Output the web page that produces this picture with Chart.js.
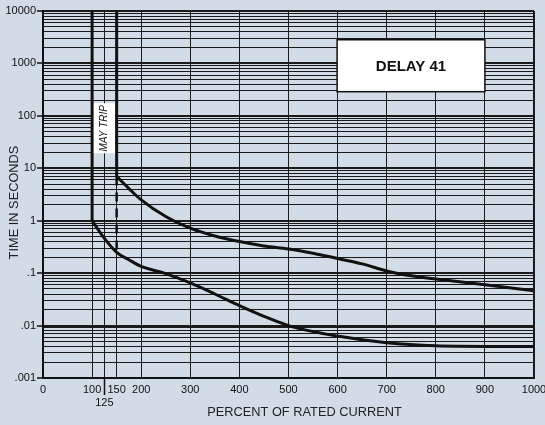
<!DOCTYPE html>
<html>
<head>
<meta charset="utf-8">
<script src="https://cdn.jsdelivr.net/npm/chart.js@4"></script>
<style>
  html, body { margin: 0; padding: 0; background: #d1dce6; }
</style>
</head>
<body>
<canvas id="chart" width="545" height="425"></canvas>
<script>
// Axis ticks
const xTicks = [0, 100, 125, 150, 200, 300, 400, 500, 600, 700, 800, 900, 1000];
const yDecades = [0.001, 0.01, 0.1, 1, 10, 100, 1000, 10000];
const yDecadeLabels = ['.001', '.01', '.1', '1', '10', '100', '1000', '10000'];
const yMinorSteps = [2, 3, 4, 5, 6, 7, 8, 9];

// Upper (maximum) trip curve
const upperX = [150, 175, 200, 250, 300, 350, 400, 450, 500, 550, 600, 650, 700, 750, 800, 900, 1000];
const upperY = [7, 4.1, 2.5, 1.2, 0.72, 0.51, 0.40, 0.33, 0.29, 0.24, 0.19, 0.15, 0.11, 0.089, 0.077, 0.06, 0.046];

// Lower (minimum) trip curve
const lowerX = [100, 125, 150, 175, 200, 250, 300, 350, 400, 450, 500, 600, 700, 800, 900, 1000];
const lowerY = [1, 0.46, 0.25, 0.18, 0.134, 0.098, 0.065, 0.04, 0.024, 0.015, 0.01, 0.0063, 0.0047, 0.0041, 0.004, 0.004];

// Vertical limits
const lowerStart = { x: 100, top: 10000, bottom: 1 };
const upperStart = { x: 150, top: 10000, bottom: 7 };
const mayTripEnd = 0.25;

const FONT = '"Liberation Sans", Arial, sans-serif';
const INK = '#111';

// log grid values: 1..9 x each decade
const yTicks = [];
yDecades.forEach((d, i) => {
    if (i === yDecades.length - 1) { yTicks.push(d); return; }
    yTicks.push(d);
    yMinorSteps.forEach(m => yTicks.push(+(m * d).toPrecision(3)));
});

function isDecade(v) {
    return yDecades.some(d => Math.abs(v - d) / d < 1e-6);
}

function toPoints(xs, ys) {
    return xs.map((x, i) => ({ x: x, y: ys[i] }));
}

const overlayPlugin = {
    id: 'overlay',
    beforeDatasetsDraw(chart) {
        const { ctx, scales: { x, y } } = chart;
        ctx.save();
        // MAY TRIP label box
        const l = x.getPixelForValue(101.5), r = x.getPixelForValue(147);
        const t = y.getPixelForValue(174), b = y.getPixelForValue(19.3);
        ctx.fillStyle = '#fff';
        ctx.fillRect(l, t, r - l, b - t);
        ctx.translate((l + r) / 2, (t + b) / 2);
        ctx.rotate(-Math.PI / 2);
        ctx.fillStyle = INK;
        ctx.font = 'italic 10px ' + FONT;
        ctx.textAlign = 'center';
        ctx.textBaseline = 'middle';
        ctx.fillText('MAY TRIP', 0, 0);
        ctx.restore();

        // DELAY 41 box
        ctx.save();
        const dl = x.getPixelForValue(599), dr = x.getPixelForValue(900);
        const dt = y.getPixelForValue(2830), db = y.getPixelForValue(289);
        ctx.fillStyle = '#fff';
        ctx.fillRect(dl, dt, dr - dl, db - dt);
        ctx.strokeStyle = INK;
        ctx.lineWidth = 1.5;
        ctx.strokeRect(dl, dt, dr - dl, db - dt);
        ctx.fillStyle = INK;
        ctx.font = 'bold 15px ' + FONT;
        ctx.textAlign = 'center';
        ctx.textBaseline = 'middle';
        ctx.fillText('DELAY 41', (dl + dr) / 2, (dt + db) / 2 + 1);
        ctx.restore();
    },
    afterDraw(chart) {
        const { ctx, chartArea, scales: { x } } = chart;
        ctx.save();
        // long tick under 125
        const px = Math.round(x.getPixelForValue(125)) + 0.5;
        ctx.strokeStyle = INK;
        ctx.lineWidth = 1.5;
        ctx.beginPath();
        ctx.moveTo(px, chartArea.bottom);
        ctx.lineTo(px, chartArea.bottom + 17);
        ctx.stroke();

        // axis titles
        ctx.fillStyle = '#222';
        ctx.font = '12.8px ' + FONT;
        ctx.textAlign = 'center';
        ctx.textBaseline = 'middle';
        ctx.fillText('PERCENT OF RATED CURRENT', (chartArea.left + chartArea.right) / 2 + 16, chartArea.bottom + 34);
        ctx.translate(chartArea.left - 29, (chartArea.top + chartArea.bottom) / 2 + 8);
        ctx.rotate(-Math.PI / 2);
        ctx.fillText('TIME IN SECONDS', 0, 0);
        ctx.restore();
    }
};

const curveStyle = {
    showLine: true,
    borderColor: INK,
    borderWidth: 3,
    pointRadius: 0,
    fill: false,
    cubicInterpolationMode: 'monotone'
};

new Chart(document.getElementById('chart'), {
    type: 'scatter',
    data: {
        datasets: [
            Object.assign({ label: 'Upper', data: toPoints(upperX, upperY) }, curveStyle),
            Object.assign({ label: 'Lower', data: toPoints(lowerX, lowerY) }, curveStyle),
            Object.assign({}, curveStyle, {
                label: 'Lower start',
                cubicInterpolationMode: 'default', tension: 0,
                data: [{ x: lowerStart.x, y: lowerStart.top }, { x: lowerStart.x, y: lowerStart.bottom }]
            }),
            Object.assign({}, curveStyle, {
                label: 'Upper start',
                cubicInterpolationMode: 'default', tension: 0,
                data: [{ x: upperStart.x, y: upperStart.top }, { x: upperStart.x, y: upperStart.bottom }]
            }),
            Object.assign({}, curveStyle, {
                label: 'May trip',
                cubicInterpolationMode: 'default', tension: 0,
                borderWidth: 2.5,
                borderDash: [9, 7],
                data: [{ x: upperStart.x, y: upperStart.bottom }, { x: upperStart.x, y: mayTripEnd }]
            })
        ]
    },
    options: {
        responsive: false,
        animation: false,
        layout: { padding: { top: 11, right: 0, left: 0, bottom: 0 } },
        plugins: {
            legend: { display: false },
            tooltip: { enabled: false }
        },
        scales: {
            x: {
                type: 'linear',
                min: 0,
                max: 1000,
                afterBuildTicks: scale => { scale.ticks = xTicks.map(v => ({ value: v })); },
                afterFit: scale => { scale.height = 47; scale.paddingRight = 11; scale.paddingLeft = 0; },
                border: { color: INK, width: 2 },
                grid: {
                    color: '#1a1a1a',
                    lineWidth: ctx => (ctx.tick && ctx.tick.value === 1000) ? 2 : 1,
                    drawTicks: false
                },
                ticks: {
                    autoSkip: false,
                    maxRotation: 0,
                    padding: 5,
                    color: INK,
                    font: { family: FONT, size: 11 },
                    callback: v => v === 125 ? ['', '125'] : String(v)
                }
            },
            y: {
                type: 'logarithmic',
                min: 0.001,
                max: 10000,
                afterBuildTicks: scale => { scale.ticks = yTicks.map(v => ({ value: v })); },
                afterFit: scale => { scale.width = 43; },
                border: { color: INK, width: 2 },
                grid: {
                    color: '#1a1a1a',
                    lineWidth: ctx => (ctx.tick && isDecade(ctx.tick.value)) ? 2 : 1,
                    tickLength: 6,
                    tickColor: ctx => (ctx.tick && isDecade(ctx.tick.value)) ? INK : 'rgba(0,0,0,0)',
                    tickWidth: 1.5
                },
                ticks: {
                    autoSkip: false,
                    padding: 1,
                    color: INK,
                    font: { family: FONT, size: 11 },
                    callback: v => {
                        const i = yDecades.findIndex(d => Math.abs(v - d) / d < 1e-6);
                        return i >= 0 ? yDecadeLabels[i] : '';
                    }
                }
            }
        }
    },
    plugins: [overlayPlugin]
});
</script>
</body>
</html>
